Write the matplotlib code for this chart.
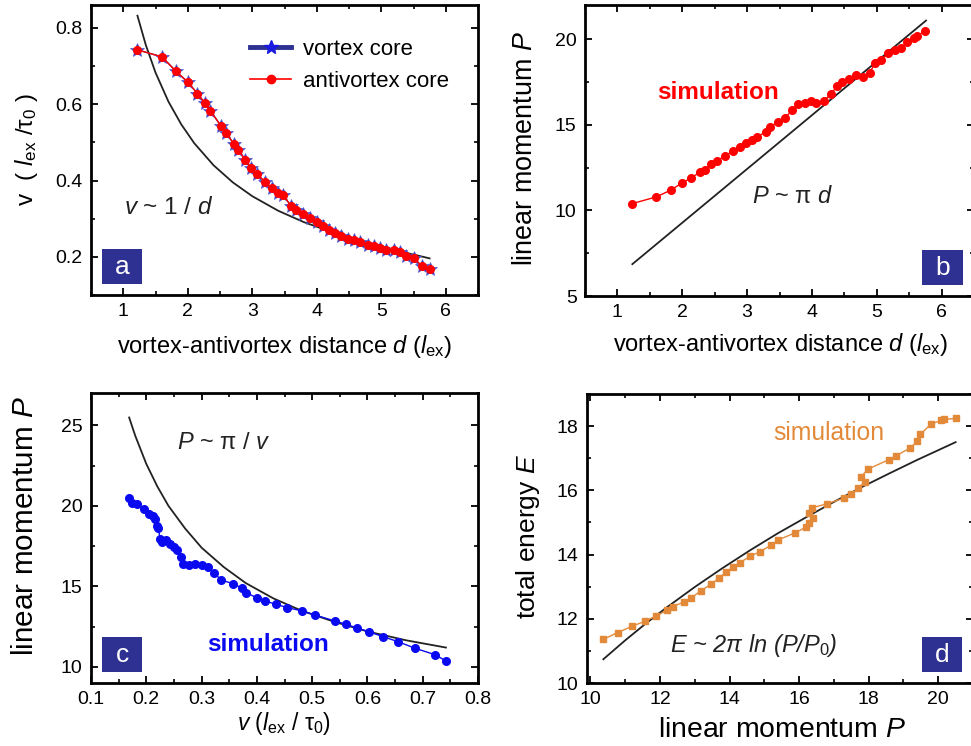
import matplotlib
matplotlib.use("Agg")
import matplotlib.pyplot as plt
import matplotlib.ticker as mticker
from matplotlib.lines import Line2D
from matplotlib.patches import Rectangle

plt.rcParams['font.family'] = ['Liberation Sans', 'DejaVu Sans']
plt.rcParams['mathtext.fontset'] = 'custom'
plt.rcParams['mathtext.rm'] = 'Liberation Sans'
plt.rcParams['mathtext.it'] = 'Liberation Sans:italic'
plt.rcParams['mathtext.bf'] = 'Liberation Sans:bold'

# ---- panel a / b : vs vortex-antivortex distance d ----
d_sim = [1.21, 1.60, 1.82, 2.00, 2.15, 2.27, 2.35, 2.52, 2.60, 2.71, 2.78, 2.89, 2.98, 3.08,
         3.20, 3.30, 3.40, 3.48, 3.60, 3.68, 3.79, 3.89, 4.01, 4.09, 4.19, 4.28, 4.38, 4.49,
         4.58, 4.67, 4.79, 4.89, 4.98, 5.08, 5.19, 5.29, 5.39, 5.50, 5.63, 5.76]
v_antivortex = [0.743, 0.724, 0.686, 0.658, 0.628, 0.602, 0.583, 0.542, 0.525, 0.496, 0.481,
                0.455, 0.433, 0.416, 0.396, 0.380, 0.368, 0.361, 0.334, 0.322, 0.311, 0.302,
                0.291, 0.280, 0.270, 0.263, 0.254, 0.247, 0.244, 0.238, 0.230, 0.228, 0.224,
                0.219, 0.217, 0.214, 0.202, 0.197, 0.176, 0.167]
v_vortex = list(v_antivortex)  # vortex core sits on top of antivortex core

d_theory_a = [1.22, 1.35, 1.5, 1.7, 1.9, 2.1, 2.4, 2.7, 3.0, 3.4, 3.8, 4.2, 4.6, 5.0, 5.4, 5.75]
v_theory_a = [0.832, 0.755, 0.683, 0.607, 0.547, 0.498, 0.440, 0.395, 0.359, 0.321, 0.291,
              0.267, 0.246, 0.228, 0.210, 0.196]

d_b = [1.23, 1.60, 1.82, 2.00, 2.14, 2.27, 2.35, 2.44, 2.53, 2.66, 2.79, 2.89, 2.98, 3.08,
       3.16, 3.29, 3.36, 3.47, 3.58, 3.70, 3.79, 3.89, 3.98, 4.07, 4.18, 4.29, 4.39, 4.47,
       4.57, 4.68, 4.79, 4.89, 4.97, 5.07, 5.18, 5.28, 5.37, 5.47, 5.57, 5.62, 5.75]
P_b = [10.40, 10.79, 11.18, 11.61, 11.91, 12.22, 12.39, 12.69, 12.88, 13.19, 13.49, 13.70,
       13.91, 14.11, 14.30, 14.60, 14.87, 15.18, 15.38, 15.88, 16.20, 16.29, 16.41, 16.29,
       16.39, 16.78, 17.27, 17.50, 17.70, 17.91, 17.82, 18.01, 18.60, 18.79, 19.18, 19.38,
       19.46, 19.81, 20.10, 20.20, 20.49]
d_theory_b = [1.23, 5.76]
P_theory_b = [6.86, 21.09]

# ---- panel c : P vs v ----
v_c = [0.169, 0.175, 0.183, 0.195, 0.205, 0.212, 0.216, 0.219, 0.222, 0.225, 0.229, 0.236,
       0.243, 0.250, 0.256, 0.262, 0.266, 0.277, 0.289, 0.300, 0.311, 0.322, 0.336, 0.357,
       0.373, 0.381, 0.401, 0.414, 0.434, 0.455, 0.481, 0.506, 0.541, 0.561, 0.582, 0.602,
       0.628, 0.655, 0.686, 0.722, 0.742]
P_c = [20.47, 20.18, 20.08, 19.79, 19.48, 19.37, 19.17, 18.75, 18.59, 17.92, 17.78, 17.86,
       17.65, 17.45, 17.26, 16.79, 16.41, 16.31, 16.41, 16.31, 16.17, 15.85, 15.38, 15.17,
       14.88, 14.61, 14.26, 14.10, 13.89, 13.68, 13.48, 13.21, 12.85, 12.65, 12.40, 12.19,
       11.88, 11.57, 11.16, 10.76, 10.37]
v_theory_c = [0.169, 0.18, 0.2, 0.22, 0.24, 0.27, 0.3, 0.34, 0.38, 0.43, 0.48, 0.54, 0.6, 0.67, 0.742]
P_theory_c = [25.48, 24.35, 22.6, 21.2, 20.0, 18.6, 17.4, 16.2, 15.2, 14.25, 13.5, 12.8,
              12.2, 11.65, 11.2]

# ---- panel d : E vs P ----
P_d = [10.37, 10.78, 11.18, 11.58, 11.88, 12.19, 12.37, 12.68, 12.88, 13.18, 13.48, 13.69,
       13.89, 14.09, 14.29, 14.59, 14.88, 15.19, 15.39, 15.89, 16.19, 16.28, 16.39, 16.29,
       16.38, 16.80, 17.30, 17.50, 17.70, 17.89, 17.79, 17.98, 18.59, 18.79, 19.20, 19.40,
       19.49, 19.80, 20.09, 20.18, 20.50]
E_d = [11.36, 11.57, 11.76, 11.93, 12.08, 12.26, 12.38, 12.52, 12.64, 12.87, 13.09, 13.26,
       13.45, 13.60, 13.74, 13.95, 14.09, 14.29, 14.45, 14.68, 14.85, 14.99, 15.13, 15.29,
       15.46, 15.58, 15.76, 15.89, 16.06, 16.27, 16.43, 16.66, 16.96, 17.08, 17.32, 17.53,
       17.75, 18.07, 18.18, 18.21, 18.24]
P_theory_d = [10.37, 11.0, 11.6, 12.2, 13.0, 13.8, 14.6, 15.4, 16.2, 17.0, 17.8, 18.6, 19.4, 20.5]
E_theory_d = [10.74, 11.33, 11.86, 12.36, 12.99, 13.58, 14.14, 14.67, 15.16, 15.64, 16.10,
              16.53, 16.95, 17.50]

NAVY = '#2e3192'
RED = '#ff0000'
BLUE = '#0a0af0'
ORANGE = '#e3893a'
DARK = '#222222'

W, H = 971, 746
fig = plt.figure(figsize=(W / 100, H / 100), dpi=100)


def add_axes(left, right, top, bottom):
    return fig.add_axes([left / W, (H - bottom) / H, (right - left) / W, (bottom - top) / H])


def style_axis(ax, xmaj, xmin, ymaj, ymin):
    for s in ax.spines.values():
        s.set_linewidth(2)
    ax.xaxis.set_major_locator(mticker.MultipleLocator(xmaj))
    ax.xaxis.set_minor_locator(mticker.MultipleLocator(xmin))
    ax.yaxis.set_major_locator(mticker.MultipleLocator(ymaj))
    ax.yaxis.set_minor_locator(mticker.MultipleLocator(ymin))
    ax.tick_params(which='both', direction='in', top=True, right=True, labelsize=14, pad=6)
    ax.tick_params(which='major', length=5, width=1.3)
    ax.tick_params(which='minor', length=3, width=1.2)


def set_labels(ax, xlabel, xsize, xpos, ylabel, ysize, ypos):
    ax.set_xlabel(xlabel, fontsize=xsize)
    ax.xaxis.set_label_coords(*xpos)
    ax.xaxis.label.set_va('center')
    ax.set_ylabel(ylabel, fontsize=ysize)
    ax.yaxis.set_label_coords(*ypos)
    ax.yaxis.label.set_va('center')


def panel_tag(ax, letter, x0, y0):
    ax.add_patch(Rectangle((x0, y0), 0.105, 0.12, transform=ax.transAxes,
                           facecolor=NAVY, edgecolor='none', zorder=5))
    ax.text(x0 + 0.0525, y0 + 0.058, letter, transform=ax.transAxes, color='white',
            fontsize=19, ha='center', va='center', zorder=6)


# ---------------- a ----------------
ax = add_axes(91, 478, 5, 295)
ax.plot(d_theory_a, v_theory_a, color=DARK, lw=1.3)
ax.plot(d_sim, v_vortex, color=NAVY, lw=1, marker='*', ms=10, mfc='#3a3ab8', mec='#5a5ad0', mew=0.5)
ax.plot(d_sim, v_antivortex, color=RED, lw=1, marker='o', ms=5.5, mec=RED)
ax.set_xlim(0.5, 6.5)
ax.set_ylim(0.1, 0.86)
style_axis(ax, 1, 0.5, 0.2, 0.1)
ax.yaxis.set_major_formatter(mticker.FormatStrFormatter('%.1f'))
set_labels(ax, r'vortex-antivortex distance $d$ ($l_{\mathrm{ex}}$)', 17, (0.50, -0.179),
           r'v  ( $l_{\mathrm{ex}}$ /$\mathrm{\tau}_0$ )', 17.5, (-0.166, 0.50))
ax.text(1.71, 0.329, r'$v$ ~ 1 / $d$', fontsize=17.5, ha='center', va='center', color=DARK)
handles = [Line2D([], [], color=NAVY, lw=3.5, marker='*', ms=10, mfc='#1a1ae0', mec='#1a1ae0'),
           Line2D([], [], color=RED, lw=1.2, marker='o', ms=6)]
ax.legend(handles, ['vortex core', 'antivortex core'], loc='upper left',
          bbox_to_anchor=(0.411, 0.883), frameon=False, fontsize=16, handlelength=1.85,
          handletextpad=0.55, labelspacing=0.5, borderpad=0, borderaxespad=0)
panel_tag(ax, 'a', 0.028, 0.038)

# ---------------- b ----------------
ax = add_axes(585, 974, 5, 296)
ax.plot(d_theory_b, P_theory_b, color=DARK, lw=1.3)
ax.plot(d_b, P_b, color=RED, lw=1, marker='o', ms=5.5, mec=RED)
ax.set_xlim(0.5, 6.5)
ax.set_ylim(5, 22)
style_axis(ax, 1, 0.5, 5, 2.5)
set_labels(ax, r'vortex-antivortex distance $d$ ($l_{\mathrm{ex}}$)', 17, (0.503, -0.168),
           r'linear momentum $P$', 19.4, (-0.155, 0.505))
ax.text(2.55, 16.86, 'simulation', fontsize=17.5, fontweight='bold', color=RED, ha='center', va='center')
ax.text(3.71, 10.78, r'$P$ ~ π $d$', fontsize=17, ha='center', va='center', color=DARK)
panel_tag(ax, 'b', 0.867, 0.038)

# ---------------- c ----------------
ax = add_axes(91, 478, 393, 683)
ax.plot(v_theory_c, P_theory_c, color=DARK, lw=1.3)
ax.plot(v_c, P_c, color=BLUE, lw=1, marker='o', ms=5.5, mec=BLUE)
ax.set_xlim(0.1, 0.8)
ax.set_ylim(9, 27)
style_axis(ax, 0.1, 0.05, 5, 2.5)
set_labels(ax, r'$v$ ($l_{\mathrm{ex}}$ / $\mathrm{\tau}_0$)', 16.5, (0.499, -0.138),
           r'linear momentum $P$', 21.4, (-0.171, 0.541))
ax.text(0.42, 11.42, 'simulation', fontsize=17.5, fontweight='bold', color=BLUE, ha='center', va='center')
ax.text(0.34, 23.9, r'$P$ ~ π / $v$', fontsize=17, ha='center', va='center', color=DARK)
panel_tag(ax, 'c', 0.028, 0.038)

# ---------------- d ----------------
ax = add_axes(587, 973, 394, 683)
ax.plot(P_theory_d, E_theory_d, color=DARK, lw=1.3)
ax.plot(P_d, E_d, color=ORANGE, lw=1, marker='s', ms=5, mec=ORANGE)
ax.set_xlim(9.9, 21)
ax.set_ylim(10, 19)
style_axis(ax, 2, 1, 2, 1)
set_labels(ax, r'linear momentum $P$', 20.4, (0.505, -0.163),
           r'total energy $E$', 19, (-0.153, 0.507))
ax.text(16.84, 17.8, 'simulation', fontsize=17.8, color=ORANGE, ha='center', va='center')
ax.text(14.68, 11.16, r'$E$ ~ 2π $ln$ ($P$/$P_{\mathit{0}}$)', fontsize=17, style='italic',
        ha='center', va='center', color=DARK)
panel_tag(ax, 'd', 0.867, 0.038)

fig.savefig('out.png', dpi=100)
